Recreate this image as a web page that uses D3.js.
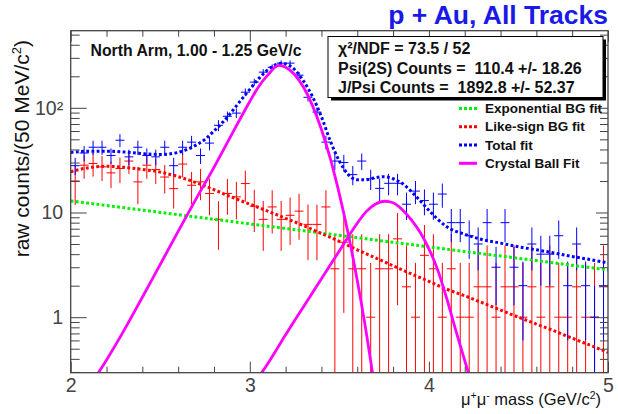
<!DOCTYPE html>
<html>
<head>
<meta charset="utf-8">
<title>p + Au, All Tracks</title>
<script src="https://d3js.org/d3.v7.min.js"></script>
<style>
    body { margin: 0; background: #fff; }
    text { font-family: "Liberation Sans", Arial, Helvetica, sans-serif; white-space: pre; }
</style>
</head>
<body>
<svg id="chart"></svg>
<script>
// centros de los bins (50 MeV)
var binCentres = [2.025, 2.075, 2.125, 2.175, 2.225, 2.275, 2.325, 2.375, 2.425, 2.475,
                  2.525, 2.575, 2.625, 2.675, 2.725, 2.775, 2.825, 2.875, 2.925, 2.975,
                  3.025, 3.075, 3.125, 3.175, 3.225, 3.275, 3.325, 3.375, 3.425, 3.475,
                  3.525, 3.575, 3.625, 3.675, 3.725, 3.775, 3.825, 3.875, 3.925, 3.975,
                  4.025, 4.075, 4.125, 4.175, 4.225, 4.275, 4.325, 4.375, 4.425, 4.475,
                  4.525, 4.575, 4.625, 4.675, 4.725, 4.775, 4.825, 4.875, 4.925, 4.975];
var binWidth = 0.05;

// unlike-sign (all tracks) counts
var blueCounts = [28, 37, 42, 42, 35, 49, 34, 42, 35, 34,
                  42, 28, 42, 47, 35, 46, 68, 83, 89, 141,
                  176, 219, 244, 267, 267, 205, 126, 91, 47, 31,
                  30, 23, 31, 21, 17, 19, 19, 12, 16, 13,
                  12, 15, 8, 8, 6, 5, 8, 3, 8, 3,
                  2, 5, 4, 4, 6, 2, 5, 2, 1, 2];
var blueErr = [5.3, 6.1, 6.5, 6.5, 5.9, 7, 5.8, 6.5, 5.9, 5.8,
               6.5, 5.3, 6.5, 6.9, 5.9, 6.8, 8.2, 9.1, 9.4, 11.9,
               13.3, 14.8, 15.6, 16.3, 16.3, 14.3, 11.2, 9.5, 6.9, 5.6,
               5.5, 4.8, 5.6, 4.6, 4.1, 4.4, 4.4, 3.5, 4, 3.6,
               3.5, 3.9, 2.8, 2.8, 2.4, 2.2, 2.8, 1.7, 2.8, 1.7,
               1.4, 2.2, 2, 2, 2.4, 1.4, 2.2, 1.4, 1, 1.4];

// like-sign counts
var redCounts = [20, 28.3, 29.4, 27.3, 23.9, 26.3, 31, 19.6, 28.3, 25.7,
                 21.8, 16.9, 29, 18.2, 19.6, 15.2, 8.6, 15.2, 14.1, 18.9,
                 11.5, 8.6, 11.3, 8.6, 9.4, 10.3, 7.7, 7.7, 11.3, 2.9,
                 5.2, 2.9, 2.9, 1.0, 2.9, 2.9, 5.6, 1.95, 1.0, 3.9,
                 2.9, 1.0, 2.9, 1.0, 1.0, 1.95, 1.95, 1.0, 1.95, 1.95,
                 1.0, 1.95, 1.0, 1.95, 1.0, 1.0, 1.95, 1.0, 1.0, 1.95];
var redErr = [8.2, 7.3, 7.4, 7.3, 6.8, 7.2, 7.6, 7.6, 7.3, 7,
              6.6, 6, 7.4, 6.2, 6.5, 5.8, 4.2, 5.7, 5.5, 6.2,
              5, 4.3, 5, 4.3, 4.5, 4.8, 4.2, 4.2, 5, 3.2,
              4.1, 3.3, 3.3, 2.3, 3.3, 3.3, 4.3, 2.9, 2.3, 3.7,
              3.3, 2.3, 3.3, 2.3, 2.3, 2.9, 2.9, 2.3, 2.9, 2.9,
              2.3, 2.9, 2.3, 2.9, 2.3, 2.3, 2.9, 2.3, 2.3, 2.9];

// curvas de ajuste
var bgMass = [2.0, 2.1, 2.2, 2.3, 2.4, 2.5, 2.6, 2.7, 2.8, 2.9, 3.0,
              3.1, 3.2, 3.3, 3.4, 3.5, 3.6, 3.7, 3.8, 3.9, 4.0,
              4.1, 4.2, 4.3, 4.4, 4.5, 4.6, 4.7, 4.8, 4.9, 5.0];
var expBgFit = [12.9, 12.27, 11.66, 11.09, 10.54, 10.02, 9.53, 9.06, 8.61, 8.19, 7.78,
                7.4, 7.04, 6.69, 6.36, 6.05, 5.75, 5.46, 5.19, 4.94, 4.69,
                4.46, 4.24, 4.03, 3.84, 3.65, 3.47, 3.3, 3.13, 2.98, 2.83];
var likeSignFit = [24.5, 26.8, 27.6, 27, 25.8, 24.3, 22, 19.3, 16.5, 14, 12,
                   10.3, 8.8, 7.5, 6.3, 5.3, 4.4, 3.7, 3.1, 2.6, 2.2,
                   1.85, 1.6, 1.37, 1.17, 1.0, 0.86, 0.74, 0.63, 0.54, 0.46];

var totalMass = [2.0, 2.1, 2.2, 2.3, 2.4, 2.5, 2.6, 2.65, 2.7, 2.75, 2.8, 2.85, 2.9, 2.95,
                 3.0, 3.05, 3.1, 3.15, 3.18, 3.2, 3.25, 3.3, 3.35, 3.4, 3.45, 3.5, 3.55,
                 3.6, 3.65, 3.7, 3.75, 3.8, 3.85, 3.9, 3.95, 4.0, 4.05, 4.1, 4.2, 4.3,
                 4.4, 4.5, 4.6, 4.7, 4.8, 4.9, 5.0];
var totalFit = [37.5, 38.5, 38.5, 37.8, 36.5, 35.8, 37.5, 40, 44, 50, 60, 73, 92, 118,
                150, 190, 230, 260, 267, 262, 232, 180, 128, 82, 48, 31, 23,
                20.5, 20.5, 21.5, 22, 21, 19, 16, 13, 10.5, 8.6, 7.3, 6.2, 5.5,
                5.1, 4.7, 4.4, 4.1, 3.8, 3.55, 3.3];

var jpsiMass = [2.155, 2.2, 2.3, 2.4, 2.5, 2.6, 2.7, 2.8, 2.9, 3.0, 3.05, 3.1, 3.16,
                3.2, 3.25, 3.3, 3.35, 3.4, 3.45, 3.5, 3.55, 3.6, 3.65, 3.685];
var jpsiFit = [0.295, 0.39, 0.76, 1.55, 3.2, 6.6, 13.5, 27, 56, 115, 160, 205, 254,
               244, 208, 157, 105, 62, 32.5, 15, 6.2, 2.24, 0.72, 0.295];

var psi2sMass = [3.066, 3.1, 3.2, 3.3, 3.4, 3.5, 3.6, 3.65, 3.7, 3.754, 3.8, 3.85,
                 3.9, 3.95, 4.0, 4.05, 4.1, 4.15, 4.22];
var psi2sFit = [0.295, 0.36, 0.68, 1.26, 2.33, 4.3, 7.9, 10.2, 12.0, 12.8, 12.4, 10.7,
                8.6, 6.5, 4.5, 2.8, 1.5, 0.75, 0.295];

// textos
var statsLines = ["χ²/NDF = 73.5 / 52",
                  "Psi(2S) Counts =  110.4 +/- 18.26",
                  "J/Psi Counts =  1892.8 +/- 52.37"];
var legendLabels = ["Exponential BG fit", "Like-sign BG fit", "Total fit", "Crystal Ball Fit"];
var legendColors = ["#00f000", "#ff0000", "#0000ff", "#ff00ff"];
var xMajor = [2, 3, 4, 5];
var xMinor = [2.2, 2.4, 2.6, 2.8, 3.2, 3.4, 3.6, 3.8, 4.2, 4.4, 4.6, 4.8];
var yMajor = [1, 10, 100];
var yMinor = [0.3, 0.4, 0.5, 0.6, 0.7, 0.8, 0.9, 2, 3, 4, 5, 6, 7, 8, 9,
              20, 30, 40, 50, 60, 70, 80, 90, 200, 300, 400, 500];

// Dimensiones
var margin = {top: 30.7, right: 10, bottom: 41.3, left: 70.7},
    width = 618 - margin.left - margin.right,
    height = 414 - margin.top - margin.bottom;

var x = d3.scaleLinear().domain([2, 5]).range([0, width]);
var y = d3.scaleLog().domain([0.295, 545]).range([height, 0]);

var svg0 = d3.select("#chart")
    .attr("width", 618)
    .attr("height", 414);

svg0.append("rect").attr("width", 618).attr("height", 414).attr("fill", "#fff");

var svg = svg0.append("g")
    .attr("transform", "translate(" + margin.left + "," + margin.top + ")");

svg.append("clipPath").attr("id", "frameClip")
    .append("rect").attr("width", width).attr("height", height);

var plot = svg.append("g").attr("clip-path", "url(#frameClip)");

// cruces con barras de error
function drawHist(counts, errs, color) {
    var pts = binCentres.map(function(m, i) { return {m: m, v: counts[i], e: errs[i]}; })
        .filter(function(d) { return d.v != null; });
    var g = plot.append("g").attr("stroke", color).attr("stroke-width", 1).attr("fill", "none");
    g.selectAll(".ebar").data(pts).enter().append("line")
        .attr("x1", d => x(d.m)).attr("x2", d => x(d.m))
        .attr("y1", d => y(d.v + d.e))
        .attr("y2", d => (d.v - d.e) > 0.2 ? y(d.v - d.e) : height + 5);
    g.selectAll(".hbar").data(pts).enter().append("line")
        .attr("x1", d => x(d.m - binWidth / 2)).attr("x2", d => x(d.m + binWidth / 2))
        .attr("y1", d => y(d.v)).attr("y2", d => y(d.v));
}
drawHist(redCounts, redErr, "#ff0000");
drawHist(blueCounts, blueErr, "#0000ff");

// curvas
var line = d3.line()
    .x(d => x(d[0]))
    .y(d => y(d[1]))
    .curve(d3.curveMonotoneX);

function drawCurve(mass, vals, color, dotted) {
    plot.append("path")
        .datum(d3.zip(mass, vals))
        .attr("fill", "none")
        .attr("stroke", color)
        .attr("stroke-width", dotted ? 3 : 2.8)
        .attr("stroke-dasharray", dotted ? "2.8 2.4" : null)
        .attr("d", line);
}
drawCurve(bgMass, expBgFit, legendColors[0], true);
drawCurve(bgMass, likeSignFit, legendColors[1], true);
drawCurve(totalMass, totalFit, legendColors[2], true);
drawCurve(jpsiMass, jpsiFit, legendColors[3], false);
drawCurve(psi2sMass, psi2sFit, legendColors[3], false);

// ejes
var axisColor = "#444";
function styleAxis(g) {
    g.select(".domain").remove();
    g.attr("color", axisColor)
        .attr("font-family", "'Liberation Sans', Arial, sans-serif")
        .attr("font-size", 19.5);
}

svg.append("g").attr("transform", "translate(0," + height + ")")
    .call(d3.axisBottom(x).tickValues(xMajor).tickFormat(d3.format("d"))
        .tickSizeInner(-11).tickSizeOuter(0).tickPadding(5))
    .call(styleAxis);
svg.append("g").attr("transform", "translate(0," + height + ")")
    .call(d3.axisBottom(x).tickValues(xMinor).tickFormat("").tickSizeInner(-6).tickSizeOuter(0))
    .call(styleAxis);
svg.append("g")
    .call(d3.axisTop(x).tickValues(xMajor).tickFormat("").tickSizeInner(-11).tickSizeOuter(0))
    .call(styleAxis);
svg.append("g")
    .call(d3.axisTop(x).tickValues(xMinor).tickFormat("").tickSizeInner(-6).tickSizeOuter(0))
    .call(styleAxis);

svg.append("g")
    .call(d3.axisLeft(y).tickValues(yMajor)
        .tickFormat(d => d === 100 ? "10²" : String(d))
        .tickSizeInner(-16).tickSizeOuter(0).tickPadding(7.5))
    .call(styleAxis);
svg.append("g")
    .call(d3.axisLeft(y).tickValues(yMinor).tickFormat("").tickSizeInner(-9).tickSizeOuter(0))
    .call(styleAxis);
svg.append("g").attr("transform", "translate(" + width + ",0)")
    .call(d3.axisRight(y).tickValues(yMajor).tickFormat("").tickSizeInner(-12).tickSizeOuter(0))
    .call(styleAxis);
svg.append("g").attr("transform", "translate(" + width + ",0)")
    .call(d3.axisRight(y).tickValues(yMinor).tickFormat("").tickSizeInner(-8).tickSizeOuter(0))
    .call(styleAxis);

// marco
svg.append("rect")
    .attr("width", width).attr("height", height)
    .attr("fill", "none").attr("stroke", axisColor).attr("stroke-width", 1.3);

// titulos de ejes
svg0.append("text")
    .attr("x", 601).attr("y", 405)
    .attr("text-anchor", "end").attr("font-size", 16.5).attr("fill", "#111")
    .html('μ<tspan dy="-6" font-size="10.5">+</tspan><tspan dy="6">μ</tspan><tspan dy="-6" font-size="10.5">-</tspan><tspan dy="6"> mass (GeV/c</tspan><tspan dy="-6" font-size="10.5">2</tspan><tspan dy="6">)</tspan>');

svg0.append("text")
    .attr("transform", "translate(29,40) rotate(-90)")
    .attr("text-anchor", "end").attr("font-size", 21).attr("fill", "#111")
    .html('raw counts/(50 MeV/c<tspan dy="-8" font-size="13">2</tspan><tspan dy="8">)</tspan>');

// titulo
svg0.append("text")
    .attr("x", 608).attr("y", 24)
    .attr("text-anchor", "end")
    .attr("font-size", 26.5).attr("font-weight", "bold")
    .attr("fill", "#1a1ae6")
    .text("p + Au, All Tracks");

svg0.append("text")
    .attr("x", 90.5).attr("y", 55.5)
    .attr("font-size", 15.8).attr("font-weight", "bold").attr("fill", "#111")
    .text("North Arm, 1.00 - 1.25 GeV/c");

// caja de estadisticas
var box = {x: 328, y: 36.5, w: 275, h: 61};
svg0.append("rect")
    .attr("x", box.x + 3).attr("y", box.y + 3).attr("width", box.w).attr("height", box.h)
    .attr("fill", "#000");
svg0.append("rect")
    .attr("x", box.x).attr("y", box.y).attr("width", box.w).attr("height", box.h)
    .attr("fill", "#fff").attr("stroke", "#000").attr("stroke-width", 1);
svg0.selectAll(".stat").data(statsLines).enter().append("text")
    .attr("x", 338).attr("y", (d, i) => 54 + i * 19.5)
    .attr("font-size", 16).attr("font-weight", "bold").attr("fill", "#111")
    .text(d => d);

// leyenda
var legendY = [108.5, 126.7, 145, 163.3];
var leg = svg0.append("g");
legendLabels.forEach(function(lbl, i) {
    leg.append("line")
        .attr("x1", 459).attr("x2", 477)
        .attr("y1", legendY[i]).attr("y2", legendY[i])
        .attr("stroke", legendColors[i]).attr("stroke-width", 3)
        .attr("stroke-dasharray", i < 3 ? "3 2" : null);
    leg.append("text")
        .attr("x", 485).attr("y", legendY[i] + 4.7)
        .attr("font-size", 13.5).attr("font-weight", "bold").attr("fill", "#111")
        .text(lbl);
});
</script>
</body>
</html>
